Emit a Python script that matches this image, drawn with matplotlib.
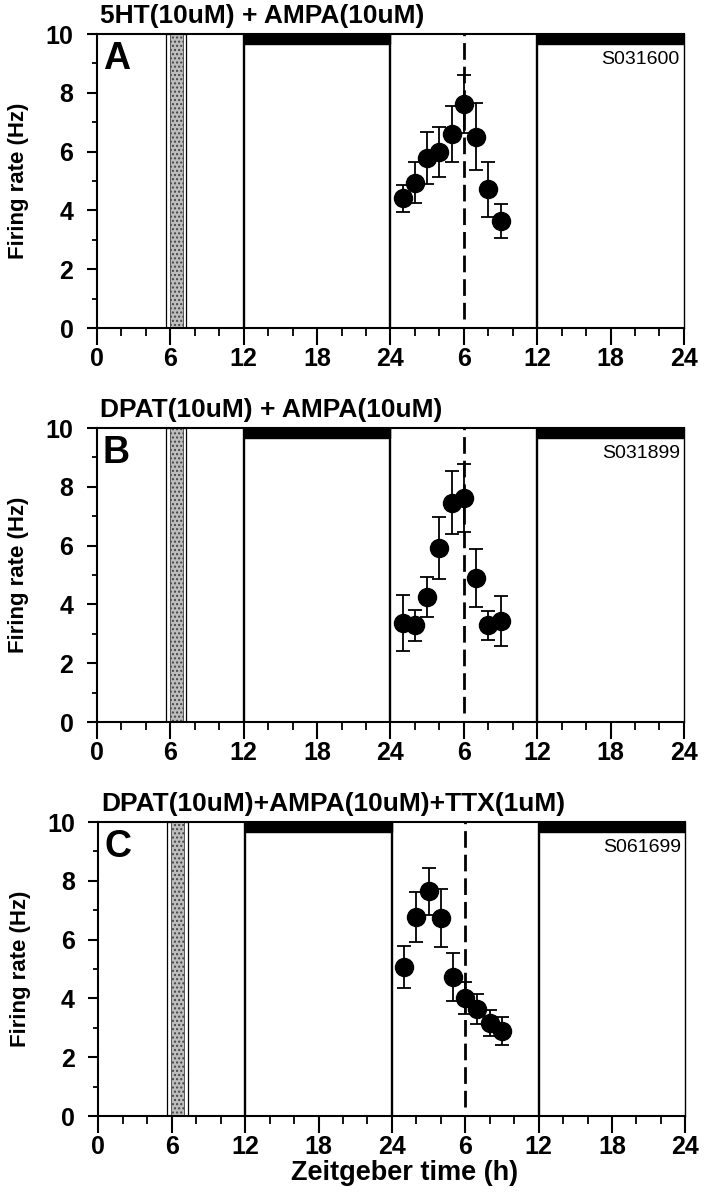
import matplotlib
matplotlib.use("Agg")
import matplotlib.pyplot as plt
from matplotlib.patches import Rectangle
from matplotlib.ticker import MultipleLocator, FixedLocator

plt.rcParams["font.family"] = ["Liberation Sans", "DejaVu Sans"]

# ---- data ----
hours = [25, 26, 27, 28, 29, 30, 31, 32, 33]

rate_a = [4.41, 4.94, 5.79, 5.98, 6.60, 7.62, 6.51, 4.72, 3.64]
err_a = [0.45, 0.70, 0.88, 0.85, 0.95, 0.98, 1.15, 0.93, 0.58]

rate_b = [3.36, 3.29, 4.24, 5.93, 7.46, 7.62, 4.89, 3.29, 3.45]
err_b = [0.95, 0.52, 0.68, 1.05, 1.07, 1.15, 0.98, 0.49, 0.85]

rate_c = [5.08, 6.78, 7.65, 6.74, 4.72, 4.02, 3.64, 3.16, 2.89]
err_c = [0.71, 0.85, 0.80, 0.98, 0.82, 0.55, 0.50, 0.44, 0.48]

titles = ["5HT(10uM) + AMPA(10uM)", "DPAT(10uM) + AMPA(10uM)",
          "DPAT(10uM)+AMPA(10uM)+TTX(1uM)"]
letters = ["A", "B", "C"]
ids = ["S031600", "S031899", "S061699"]

dark_periods = [(12, 24), (36, 48)]
day_lines = [12, 24, 36]
treatment = (5.65, 7.3)   # shaded drug application window
peak_time = 30

xticks = [0, 6, 12, 18, 24, 30, 36, 42, 48]
xticklabels = ["0", "6", "12", "18", "24", "6", "12", "18", "24"]

rates = [rate_a, rate_b, rate_c]
errs = [err_a, err_b, err_c]

fig = plt.figure(figsize=(7.08, 11.99), dpi=100)
# axes boxes in figure fractions: left, bottom, width, height
boxes = [
    [0.137, 0.7264, 0.829, 0.2452],
    [0.137, 0.3978, 0.829, 0.2452],
    [0.139, 0.0692, 0.829, 0.2452],
]

for i in range(3):
    ax = fig.add_axes(boxes[i])
    ax.set_xlim(0, 48)
    ax.set_ylim(0, 10)

    # drug window
    t0, t1 = treatment
    ax.add_patch(Rectangle((t0, 0), t1 - t0, 10, facecolor="white",
                           edgecolor="black", lw=0.9, zorder=1))
    ax.add_patch(Rectangle((t0 + 0.3, 0), t1 - t0 - 0.6, 10, facecolor="#bdbdbd",
                           edgecolor="#444444", hatch="....", lw=0.6, zorder=1))

    # dark phases
    for a, b in dark_periods:
        ax.axvspan(a, b, ymin=0.965, ymax=1.0, color="black", zorder=2)
    for d in day_lines:
        ax.axvline(d, color="black", lw=1.7, zorder=2)
    ax.vlines(peak_time, 0.3, 10, colors="black", linestyles=(0, (6, 2.5)),
              lw=2.0, zorder=2)

    ax.errorbar(hours, rates[i], yerr=errs[i], fmt="o", color="black",
                ms=13, capsize=5, capthick=1.3, elinewidth=1.3, zorder=4)

    for s in ["left", "bottom", "top"]:
        ax.spines[s].set_linewidth(1.5)
    ax.spines["right"].set_linewidth(1.0)

    ax.xaxis.set_major_locator(FixedLocator(xticks))
    ax.set_xticklabels(xticklabels)
    ax.xaxis.set_minor_locator(MultipleLocator(2))
    ax.yaxis.set_major_locator(MultipleLocator(2))
    ax.yaxis.set_minor_locator(MultipleLocator(1))
    ax.tick_params(axis="x", which="major", direction="out", length=12,
                   width=1.5, pad=2, labelsize=18)
    ax.tick_params(axis="x", which="minor", direction="out", length=6,
                   width=1.3)
    ax.tick_params(axis="y", which="major", direction="out", length=7,
                   width=1.5, pad=10, labelsize=18)
    ax.tick_params(axis="y", which="minor", direction="out", length=3.5,
                   width=1.3)
    for lab in ax.get_xticklabels() + ax.get_yticklabels():
        lab.set_fontweight("bold")

    ax.set_ylabel("Firing rate (Hz)", fontsize=16, fontweight="bold")
    ax.yaxis.set_label_coords(-0.115, 0.5)

    ax.text(0.005, 1.037, titles[i], transform=ax.transAxes, ha="left",
            va="baseline", fontsize=19, fontweight="bold")
    ax.text(0.01, 0.975, letters[i], transform=ax.transAxes, ha="left",
            va="top", fontsize=27, fontweight="bold")
    ax.text(0.993, 0.915, ids[i], transform=ax.transAxes, ha="right",
            va="center", fontsize=14,
            family=["Liberation Sans Narrow", "Liberation Sans"])

fig.text(405 / 708, 1 - 1173 / 1199, "Zeitgeber time (h)", ha="center",
         va="center", fontsize=19.5, fontweight="bold")

fig.savefig("out.png", dpi=100)
